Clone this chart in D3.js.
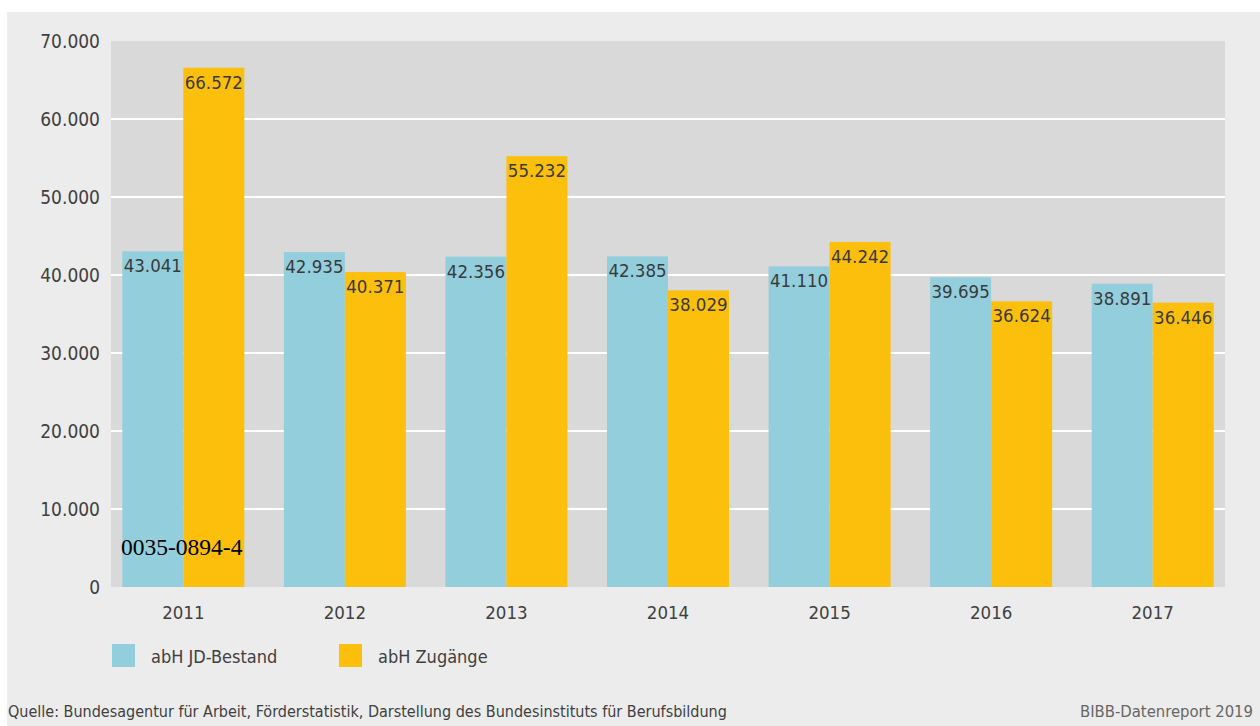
<!DOCTYPE html>
<html><head><meta charset="utf-8">
<script src="https://cdn.jsdelivr.net/npm/d3@7"></script>
<style>
html,body{margin:0;padding:0;background:#fff;}
svg{display:block;}
</style></head>
<body>
<svg id="c" width="1260" height="726"></svg>
<script>
const years = ["2011","2012","2013","2014","2015","2016","2017"];
const bestand = [43041, 42935, 42356, 42385, 41110, 39695, 38891];
const zugaenge = [66572, 40371, 55232, 38029, 44242, 36624, 36446];
const seriesNames = ["abH JD-Bestand", "abH Zugänge"];
const yTicks = [0,10000,20000,30000,40000,50000,60000,70000];

const colors = ["#93cedd", "#fcbf0b"];
const fmt = v => d3.format(",")(v).replace(/,/g, ".");
const font = "'DejaVu Sans Condensed', 'DejaVu Sans', sans-serif";

const svg = d3.select("#c");
svg.append("rect").attr("x",7).attr("y",12).attr("width",1253).attr("height",714).attr("fill","#ececec");

const L = 111, R = 1225, T = 41, B = 587;
svg.append("rect").attr("x",L).attr("y",T).attr("width",R-L).attr("height",B-T).attr("fill","#d9d9d9");

const y = d3.scaleLinear().domain([0,70000]).range([B,T]);
const x0 = d3.scaleBand().domain(years).range([L,R]).paddingInner(0.245).paddingOuter(0.07);
const x1 = d3.scaleBand().domain([0,1]).range([0,x0.bandwidth()]);

// gridlines
svg.append("g").selectAll("line").data(yTicks.filter(t => t>0 && t<70000)).join("line")
  .attr("x1",L).attr("x2",R).attr("y1",d=>y(d)).attr("y2",d=>y(d))
  .attr("stroke","#fff").attr("stroke-width",2);

// y axis labels
const yAxis = d3.axisLeft(y).tickValues(yTicks).tickFormat(fmt).tickSize(0).tickPadding(0);
const gy = svg.append("g").attr("transform",`translate(${L-11},0)`).call(yAxis);
gy.select(".domain").remove();
gy.selectAll("text").attr("font-family",font).attr("font-size",19).attr("fill","#404040").attr("dy","0.35em");

// x axis labels
const xAxis = d3.axisBottom(x0).tickSize(0).tickPadding(0);
const gx = svg.append("g").attr("transform",`translate(0,${B+18})`).call(xAxis);
gx.select(".domain").remove();
gx.selectAll("text").attr("font-family",font).attr("font-size",18.5).attr("fill","#404040").attr("dy","0.75em");

const data = years.map((yr,i)=>({yr, vals:[bestand[i], zugaenge[i]]}));
const groups = svg.append("g").selectAll("g").data(data).join("g")
  .attr("transform", d=>`translate(${x0(d.yr)},0)`);
groups.selectAll("rect").data(d=>d.vals.map((v,k)=>({v,k}))).join("rect")
  .attr("x",d=>x1(d.k)).attr("width",x1.bandwidth())
  .attr("y",d=>y(d.v)).attr("height",d=>B-y(d.v))
  .attr("fill",d=>colors[d.k]);
groups.selectAll("text").data(d=>d.vals.map((v,k)=>({v,k}))).join("text")
  .attr("x",d=>x1(d.k)+x1.bandwidth()/2).attr("y",d=>y(d.v)+21)
  .attr("text-anchor","middle").attr("font-family",font).attr("font-size",18.5).attr("fill","#3a3a3a")
  .text(d=>fmt(d.v));

// overlay code text
svg.append("text").attr("x",121).attr("y",555).attr("font-family","'Liberation Serif', serif")
  .attr("font-size",23.5).attr("fill","#000").text("0035-0894-4");

// legend
const legX = [112, 339];
const lg = svg.append("g").selectAll("g").data(seriesNames).join("g")
  .attr("transform",(d,i)=>`translate(${legX[i]},644)`);
lg.append("rect").attr("width",23).attr("height",23).attr("fill",(d,i)=>colors[i]);
lg.append("text").attr("x",39).attr("y",19).attr("font-family",font).attr("font-size",18).attr("fill","#404040").text(d=>d);

// footer
svg.append("text").attr("x",8).attr("y",717).attr("font-family",font).attr("font-size",16).attr("fill","#404040")
  .text("Quelle: Bundesagentur für Arbeit, Förderstatistik, Darstellung des Bundesinstituts für Berufsbildung");
svg.append("text").attr("x",1253).attr("y",717).attr("text-anchor","end").attr("font-family",font).attr("font-size",16.5).attr("fill","#666")
  .text("BIBB-Datenreport 2019");
</script>
</body></html>
